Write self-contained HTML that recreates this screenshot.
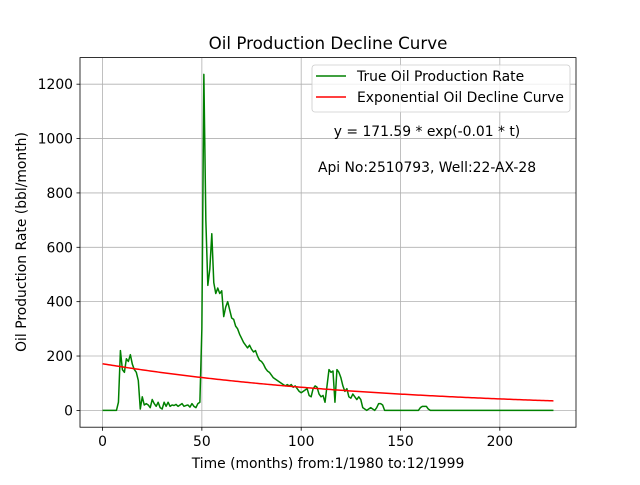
<!DOCTYPE html>
<html><head><meta charset="utf-8"><style>
html,body{margin:0;padding:0;background:#fff;}
svg text{font-family:"DejaVu Sans","Liberation Sans",sans-serif;fill:#000;}
</style></head><body>
<svg id="chart" width="640" height="480" viewBox="0 0 640 480" xmlns="http://www.w3.org/2000/svg">
<rect width="640" height="480" fill="#fff"/>
<g id="grid"></g>
<g id="plot"></g>
<rect x="80" y="57.6" width="496" height="369.6" fill="none" stroke="#000" stroke-width="0.8"/>
<g id="ticks"></g>
<text x="328" y="49" font-size="16.7" text-anchor="middle">Oil Production Decline Curve</text>
<text x="328" y="468" font-size="13.9" text-anchor="middle">Time (months) from:1/1980 to:12/1999</text>
<text transform="translate(26,242) rotate(-90)" font-size="13.9" text-anchor="middle">Oil Production Rate (bbl/month)</text>
<g>
<rect x="312" y="65" width="258" height="47" rx="3" fill="#fff" fill-opacity="0.8" stroke="#ccc" stroke-width="0.8"/>
<line x1="316" y1="76" x2="346" y2="76" stroke="green" stroke-width="1.5"/>
<text x="357" y="81" font-size="13.9">True Oil Production Rate</text>
<line x1="316" y1="97" x2="346" y2="97" stroke="red" stroke-width="1.5"/>
<text x="357" y="102" font-size="13.9">Exponential Oil Decline Curve</text>
</g>
<text x="427" y="136" font-size="13.9" text-anchor="middle">y = 171.59 * exp(-0.01 * t)</text>
<text x="427" y="172" font-size="13.9" text-anchor="middle">Api No:2510793, Well:22-AX-28</text>
</svg>
<script>
const production = [
0,0,0,0,0,0,0,0,30,220,
150,140,190,180,205,170,150,140,110,5,
50,20,25,20,10,40,25,15,30,10,
5,30,15,30,15,20,18,22,15,20,
25,15,18,20,12,25,15,10,25,30,
300,1236,700,460,520,650,470,430,450,430,
440,345,380,400,370,340,335,310,300,280,
265,250,240,230,240,225,215,220,200,185,
180,170,155,145,140,130,120,115,110,105,
100,95,90,95,90,95,85,90,80,70,
65,70,75,80,55,50,80,90,85,60,
50,55,30,90,150,140,145,30,150,140,
120,90,70,80,50,45,60,50,40,50,
40,10,5,0,5,10,5,0,10,25,
25,20,0,0,0,0,0,0,0,0,
0,0,0,0,0,0,0,0,0,0,
10,15,15,15,5,0,0,0,0,0,
0,0,0,0,0,0,0,0,0,0,
0,0,0,0,0,0,0,0,0,0,
0,0,0,0,0,0,0,0,0,0,
0,0,0,0,0,0,0,0,0,0,
0,0,0,0,0,0,0,0,0,0,
0,0,0,0,0,0,0,0];
const fitA = 171.59;
const fitB = 0.007;
const xTicks = [0,50,100,150,200];
const yTicks = [0,200,400,600,800,1000,1200];
const NS="http://www.w3.org/2000/svg";
const xMin=-11.35,xMax=238.35,yMin=-61.8,yMax=1297.8;
const L=80,R=576,T=57.6,B=427.2;
function sx(v){return L+(v-xMin)/(xMax-xMin)*(R-L);}
function sy(v){return B-(v-yMin)/(yMax-yMin)*(B-T);}
function mk(tag,attrs,parent){const e=document.createElementNS(NS,tag);for(const k in attrs)e.setAttribute(k,attrs[k]);parent.appendChild(e);return e;}
const grid=document.getElementById('grid'),ticks=document.getElementById('ticks'),plot=document.getElementById('plot');
xTicks.forEach(v=>{const x=sx(v);
 const g=mk('line',{x1:x,x2:x,y1:T,y2:B,stroke:'#b0b0b0','stroke-width':0.8},grid);
 
 
 mk('line',{x1:x,x2:x,y1:B,y2:B+3.5,stroke:'#000','stroke-width':0.8},ticks);
 const t=mk('text',{x:x,y:B+19,'font-size':13.9,'text-anchor':'middle'},ticks);t.textContent=v;
 
 });
yTicks.forEach(v=>{const y=sy(v);
 const g=mk('line',{x1:L,x2:R,y1:y,y2:y,stroke:'#b0b0b0','stroke-width':0.8},grid);
 
 
 mk('line',{x1:L-3.5,x2:L,y1:y,y2:y,stroke:'#000','stroke-width':0.8},ticks);
 const t=mk('text',{x:L-7,y:y+5,'font-size':13.9,'text-anchor':'end'},ticks);t.textContent=v;
 
 });
let d='';production.forEach((v,i)=>{d+=(i?'L':'M')+sx(i).toFixed(2)+','+sy(v).toFixed(2);});
const p1=mk('path',{d:d,fill:'none',stroke:'green','stroke-width':1.5,'stroke-linejoin':'round'},plot);


let d2='';production.forEach((_,i)=>{d2+=(i?'L':'M')+sx(i).toFixed(2)+','+sy(fitA*Math.exp(-fitB*i)).toFixed(2);});
const p2=mk('path',{d:d2,fill:'none',stroke:'red','stroke-width':1.5},plot);


</script>
</body></html>
